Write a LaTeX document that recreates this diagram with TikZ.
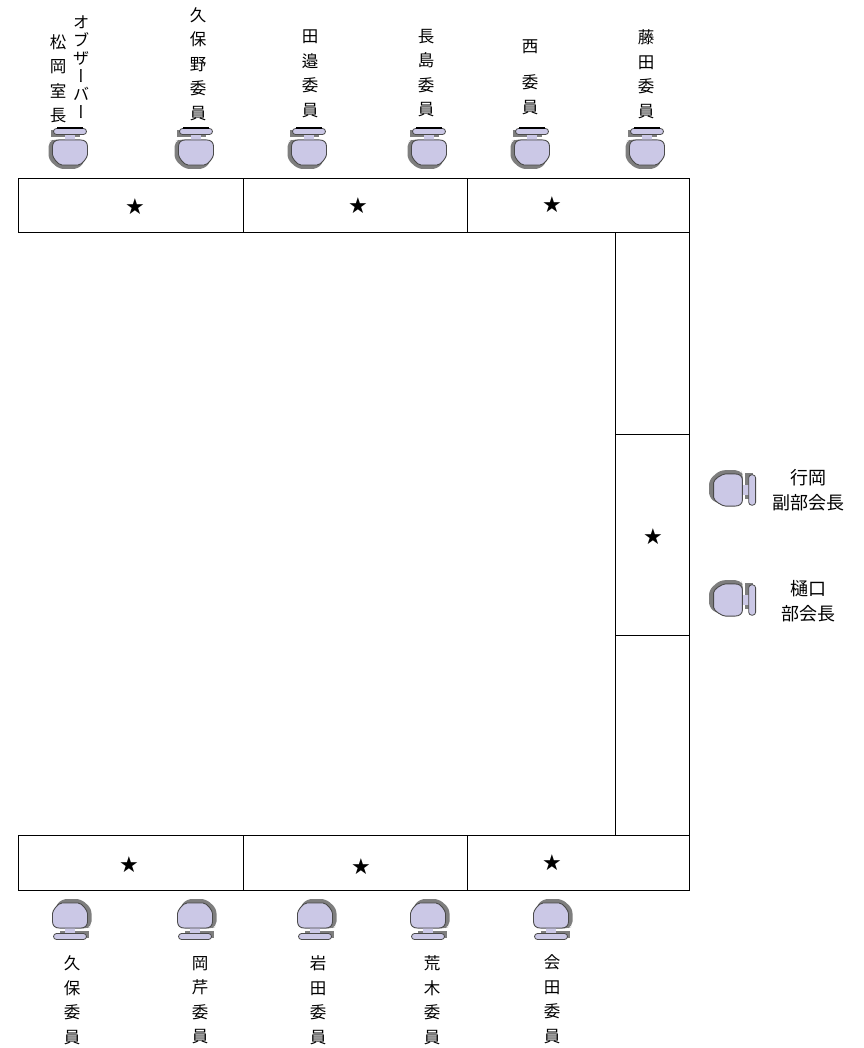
\documentclass[tikz,border=0pt]{standalone}
\usepackage{fontspec}
\setmainfont{Noto Sans CJK JP}
\newfontfamily\vertfont[RawFeature={+vert}]{Noto Sans CJK JP}
\newfontfamily\starfont{DejaVu Sans}
\definecolor{seatfill}{HTML}{CBC8E6}
\definecolor{seatshadow}{HTML}{7E7E7E}
\definecolor{seatline}{HTML}{4A4A4A}
\tikzset{
  x=1pt,y=1pt,
  tablebox/.style={draw=black,line width=1pt},
  vlabel/.style={inner sep=0pt,align=center,font=\fontsize{16.5}{24.5}\selectfont},
  vkata/.style={inner sep=0pt,align=center,font=\vertfont\fontsize{16.5}{18}\selectfont},
  hlabel/.style={inner sep=0pt,align=center,font=\fontsize{18}{25}\selectfont},
  starmark/.style={inner sep=0pt,font=\starfont\fontsize{22}{22}\selectfont},
  chair/.pic={
    \fill[seatshadow,rounded corners=5] (-16,13) -- (-21.5,11) -- (-21.5,-7)
      -- (-11,-16.5) -- (8,-16.5) -- (15,-9) -- (15,13) -- cycle;
    \fill[seatshadow] (-19,15) rectangle (10,22);
    \fill[seatfill] (-5,12) rectangle (5,18);
    \draw[fill=seatfill,line width=.8pt,draw=seatline,rounded corners=3] (-16.5,18) rectangle (16.5,24);
    \draw[fill=seatfill,line width=.9pt,draw=seatline]
      (-11,12.5) -- (11,12.5) .. controls (15,12.5) and (17.5,10) .. (17.5,6) -- (17.5,-2)
      .. controls (17.5,-5) and (12,-12.5) .. (8,-12.5) -- (-8,-12.5)
      .. controls (-12,-12.5) and (-17.5,-5) .. (-17.5,-2) -- (-17.5,6)
      .. controls (-17.5,10) and (-15,12.5) .. (-11,12.5) -- cycle;
  },
  barline/.pic={\draw[line width=1.5pt,black] (-13,24.3) -- (13,24.3);}
}
\begin{document}
\begin{tikzpicture}
\useasboundingbox (0,0) rectangle (863,-1048);
% tables
\draw[tablebox] (18,-179) rectangle (689,-233);
\draw[tablebox] (243,-179) -- (243,-233);
\draw[tablebox] (467,-179) -- (467,-233);
\draw[tablebox] (615,-233) rectangle (689,-835);
\draw[tablebox] (615,-434) -- (689,-434);
\draw[tablebox] (615,-635) -- (689,-635);
\draw[tablebox] (18,-835) rectangle (689,-890);
\draw[tablebox] (243,-835) -- (243,-890);
\draw[tablebox] (467,-835) -- (467,-890);
% stars
\node[starmark] (s1) at (135,-207) {★};
\node[starmark] (s2) at (358,-206) {★};
\node[starmark] (s3) at (552,-205) {★};
\node[starmark] (s4) at (653,-537) {★};
\node[starmark] (s5) at (129,-865) {★};
\node[starmark] (s6) at (361,-867) {★};
\node[starmark] (s7) at (552,-863) {★};
% chairs: top
\foreach \cx in {70,196,309,429,532,647} {
  \pic at (\cx,-152.5) {chair};
  \pic at (\cx,-152.5) {barline};
}
% chairs: bottom
\foreach \cx in {70,195,315,428,551} {
  \pic[rotate=180] at (\cx,-915.5) {chair};
}
% chairs: right
\pic[rotate=-90,xscale=.92,yscale=1.15] at (728,-490) {chair};
\pic[rotate=-90,xscale=.92,yscale=1.15] at (728,-600) {chair};
% labels: top
\node[vkata] (t1a) at (81,-67) {オ\\ブ\\ザ\\ー\\バ\\ー};
\node[vlabel] (t1b) at (58,-79) {松\\岡\\室\\長};
\node[vlabel] (t2) at (198,-64) {久\\保\\野\\委\\員};
\node[vlabel] (t3) at (310,-74) {田\\邉\\委\\員};
\node[vlabel] (t4) at (426,-73) {長\\島\\委\\員};
\node[vlabel] (t5) at (530,-77) {西\\[12pt]委\\員};
\node[vlabel] (t6) at (646,-74) {藤\\田\\委\\員};
% labels: bottom
\node[vlabel] (b1) at (72,-1000) {久\\保\\委\\員};
\node[vlabel] (b2) at (200,-1000) {岡\\芹\\委\\員};
\node[vlabel] (b3) at (318,-1000) {岩\\田\\委\\員};
\node[vlabel] (b4) at (432,-1000) {荒\\木\\委\\員};
\node[vlabel] (b5) at (552,-999) {会\\田\\委\\員};
% labels: right
\node[hlabel] (r1) at (808,-490) {行岡\\副部会長};
\node[hlabel] (r2) at (808,-601) {樋口\\部会長};
\end{tikzpicture}
\end{document}
